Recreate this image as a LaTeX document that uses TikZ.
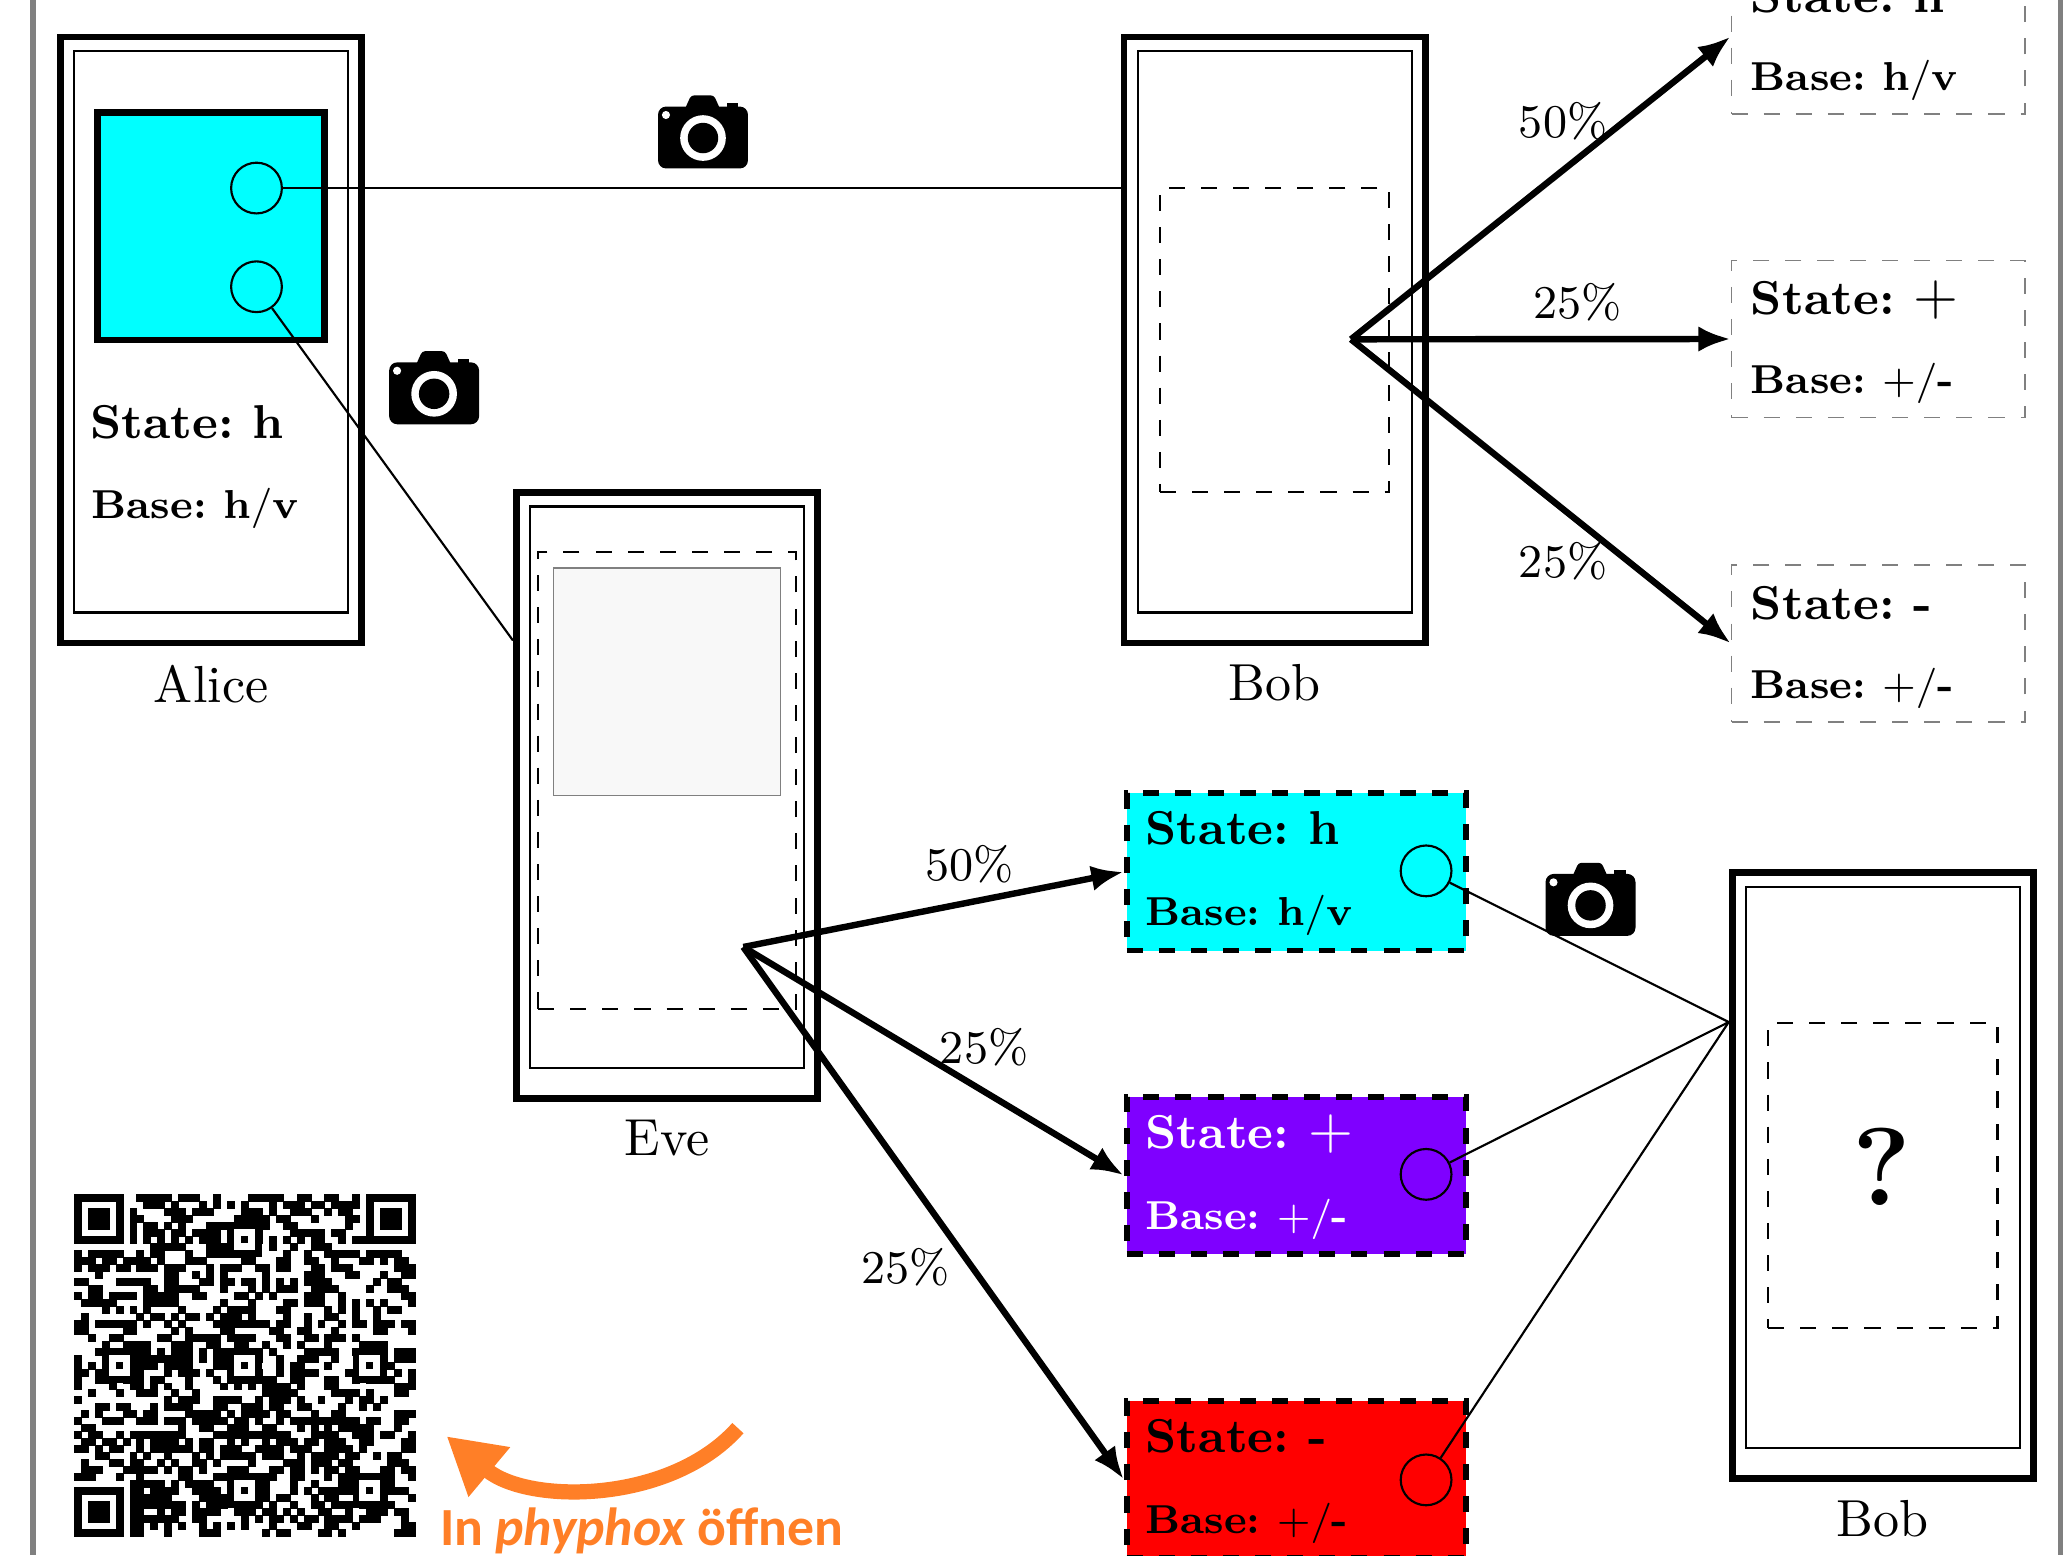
\documentclass[tikz,border=0pt]{standalone}
\usepackage{fontspec}
\usepackage{amsmath,amssymb}
\usetikzlibrary{arrows.meta,positioning,calc}
\newfontfamily\carlitofont{Carlito}
\definecolor{phyorange}{HTML}{FF7F27}
\definecolor{statecyan}{HTML}{00FFFF}
\definecolor{stateviolet}{HTML}{7F00FF}
\definecolor{statered}{HTML}{FF0000}
\definecolor{screengray}{HTML}{F8F8F8}
\newcommand{\stateplus}{{\fontsize{11}{13}\selectfont$+$}}
\newcount\qrcol
\def\qrstep#1{\ifx#1\relax\else\ifnum#1=1 \filldraw[line width=.1pt] (\the\qrcol,\qrrow) rectangle ++(1,1);\fi\advance\qrcol by 1 \expandafter\qrstep\fi}
\newcommand{\qralign}[2]{%
  \fill (#1-2,#2-2) rectangle ++(5,5);
  \fill[white] (#1-1,#2-1) rectangle ++(3,3);
  \fill (#1,#2) rectangle ++(1,1);}
\newcommand{\drawcamera}[1]{%
  \begin{scope}[shift={#1}]
    \fill[rounded corners=.08cm] (-.443,-.36) rectangle (.443,.25);
    \fill[rounded corners=.03cm] (-.19,.2) -- (-.118,.36) -- (.108,.36) -- (.18,.2) -- cycle;
    \fill (.236,.2) rectangle (.345,.286);
    \fill[white] (-.365,.167) circle (.04);
    \fill[white] (0,-.06) circle (.225);
    \fill (0,-.06) circle (.15);
  \end{scope}}

\begin{document}
\frenchspacing
\begin{tikzpicture}[
  phone/.style={rectangle,draw,line width=1.9pt,minimum width=2.97cm,minimum height=5.97cm,inner sep=0pt},
  phoneinner/.style={rectangle,draw,semithick,minimum width=2.7cm,minimum height=5.53cm,inner sep=0pt},
  window/.style={rectangle,draw,semithick,dash pattern=on 4.5pt off 4.5pt,minimum width=2.26cm,minimum height=3cm,inner sep=0pt},
  screen/.style={rectangle,draw,inner sep=0pt},
  port/.style={circle,draw,semithick,minimum size=5mm,inner sep=0pt},
  result/.style={rectangle,draw=gray,thin,dash pattern=on 4.5pt off 4.5pt,minimum width=2.89cm,minimum height=1.55cm,inner sep=0pt},
  measured/.style={rectangle,draw,line width=1.6pt,dash pattern=on 4.5pt off 4.5pt,minimum width=3.34cm,minimum height=1.55cm,inner sep=0pt},
  statetext/.style={anchor=base west,inner sep=0pt,scale=1.48,font=\small\bfseries},
  basetext/.style={anchor=base west,inner sep=0pt,scale=1.415,font=\footnotesize\bfseries},
  phonename/.style={scale=1.46,font=\normalsize},
  percent/.style={scale=1.46,font=\small,inner sep=0pt},
  beam/.style={line width=1.8pt,-{Latex[length=3.2mm,width=2.5mm]}},
  ray/.style={semithick}]
\useasboundingbox (0,0) rectangle (20.325,15.32);
\clip (0,0) rectangle (20.325,15.32);

% page rules
\fill[gray] (.296,0) rectangle (.355,15.32);
\fill[gray] (20.276,0) rectangle (20.325,15.32);

% phones
\node[phone] (alice) at (2.08,11.97) {};
\node[phone] (bob) at (12.558,11.97) {};
\node[phone] (eve) at (6.572,7.485) {};
\node[phone] (bobq) at (18.55,3.74) {};
\node[phoneinner] (aliceinner) at ($(alice)+(0,.08)$) {};
\node[phoneinner] (bobinner) at ($(bob)+(0,.08)$) {};
\node[phoneinner] (eveinner) at ($(eve)+(0,.08)$) {};
\node[phoneinner] (bobqinner) at ($(bobq)+(0,.08)$) {};
\node[phonename,below=0pt of alice] (alicename) {Alice};
\node[phonename,below=0pt of bob] (bobname) {Bob};
\node[phonename,below=0pt of eve] (evename) {Eve};
\node[phonename,below=0pt of bobq] (bobqname) {Bob};

% screens
\node[screen,line width=1.9pt,fill=statecyan,minimum size=2.24cm] (alicescreen) at ($(alice)+(0,1.12)$) {};
\node[port] (alicetop) at (2.527,13.467) {};
\node[port] (alicelow) at (2.527,12.495) {};
\node[statetext] (alicestate) at (.88,11) {State: h};
\node[basetext] (alicebase) at (.894,10.21) {Base: h$/$v};
\node[window] (bobwindow) at (bob) {};
\node[window] (bobqwindow) at (bobq) {};
\node[window,minimum width=2.54cm,minimum height=4.5cm] (evewindow) at ($(eve)+(0,.145)$) {};
\node[screen,thin,draw=gray,fill=screengray,minimum size=2.24cm] (evescreen) at ($(eve)+(0,1.12)$) {};
\node[font=\fontsize{31}{36}\selectfont\bfseries,inner sep=0pt] (question) at (18.54,3.82) {?};

% results on Bob's side
\node[result] (resh) at (18.505,14.97) {};
\node[result] (resp) at (18.505,11.98) {};
\node[result] (resm) at (18.505,8.98) {};
\node[statetext] (reshstate) at (17.24,15.2) {State: h};
\node[basetext] (reshbase) at (17.24,14.43) {Base: h$/$v};
\node[statetext] (respstate) at (17.24,12.22) {State: \stateplus};
\node[basetext] (respbase) at (17.24,11.44) {Base: $+/$-};
\node[statetext] (resmstate) at (17.24,9.22) {State: -};
\node[basetext] (resmbase) at (17.24,8.44) {Base: $+/$-};

% results on Eve's side
\node[measured,fill=statecyan] (evh) at (12.77,6.73) {};
\node[measured,fill=stateviolet] (evp) at (12.77,3.74) {};
\node[measured,fill=statered] (evm) at (12.77,.745) {};
\node[statetext] (evhstate) at (11.277,7) {State: h};
\node[basetext] (evhbase) at (11.277,6.2) {Base: h$/$v};
\node[statetext,white] (evpstate) at (11.277,4) {State: \stateplus};
\node[basetext,white] (evpbase) at (11.277,3.21) {Base: $+/$-};
\node[statetext] (evmstate) at (11.277,1.01) {State: -};
\node[basetext] (evmbase) at (11.277,.21) {Base: $+/$-};
\node[port] (evhport) at (14.05,6.74) {};
\node[port] (evpport) at (14.05,3.75) {};
\node[port] (evmport) at (14.05,.74) {};

% connectors
\coordinate (bobsrc) at (13.31,11.977);
\coordinate (evesrc) at (7.323,5.99);
\coordinate (eveport) at (eve.west |- 0,9.01);
\coordinate (bobqport) at (bobq.west |- bobqwindow.north);
\coordinate (reshport) at (17.05,14.96);
\draw[ray] (alicetop) -- (alicetop -| bob.west);
\draw[ray] (alicelow) -- (eveport);
\draw[ray] (evhport) -- (bobqport);
\draw[ray] (evpport) -- (bobqport);
\draw[ray] (evmport) -- (bobqport);
\draw[beam] (bobsrc) -- (reshport);
\draw[beam] (bobsrc) -- (resp.west);
\draw[beam] (bobsrc) -- (resm.west);
\draw[beam] (evesrc) -- (evh.west);
\draw[beam] (evesrc) -- (evp.west);
\draw[beam] (evesrc) -- (evm.west);
\node[percent] (pbobh) at (15.4,14.13) {50\%};
\node[percent] (pbobp) at (15.54,12.34) {25\%};
\node[percent] (pbobm) at (15.4,9.79) {25\%};
\node[percent] (pevh) at (9.553,6.805) {50\%};
\node[percent] (pevp) at (9.695,5.003) {25\%};
\node[percent] (pevm) at (8.918,2.839) {25\%};

% cameras
\drawcamera{(6.926,14.02)}
\drawcamera{(4.277,11.5)}
\drawcamera{(15.67,6.46)}

% qr code
\begin{scope}[shift={(.729,3.55)},x=.0686cm,y=-.0686cm]
\foreach \qrbits [count=\qrrow from 0] in {
1111111001111101110010000111110011001100101111111,
1000001000111010001010101000101110110111101000001,
1011101010000111011100001110100111001011001011101,
1011101011000011100000011111011000100001101011101,
1011101010110101000111111111001100000001001011101,
1000001010111011011110111010000111110110001000001,
1111111010101010101110110110101010110010111111111,
0000000000011111000111111100100100111000000000000,
1011111001011000100111111100001001001111101111100,
1110110111101000111000001100011001100100011010110,
1011101101110111000101110011011000110111000000111,
0001000000000110010101000001000001110001100010011,
1100001111100110001101101101010101111000000101100,
0011000000110111110001000101011100111100001001110,
1011011110111110011000011010100001110010000000011,
0111110000111110000001000100001101110010101010001,
0000101010100001000010111100011000001010100101100,
0100000001011010110101110100001001001100100100000,
1101111110100101000011111111011001010010110111011,
1100000110000010100001100000110011000100000110001,
0010011000001100111110111100011001101110100000000,
0000100111100011100110011001001010001000011110000,
0001111101101011101011111110100001111100111110111,
1000100011111111101011000010010011100100011110111,
1010101011110111100011010100010110001000010111000,
1101100111000101110100111010010111100001011000101,
1001100111011000100010111111100110001100101111001,
1000010011010100100001010101111010001100000000111,
0010001001110010010000000001111100000111101000110,
1000000000000101110011110010111010010001011010000,
0001101100010111100011001110110011000010010100000,
0101000110110000111110101111011000100110000000111,
1000111001110111011111011010010111111111101100110,
0110000000000001001100111001100010101011111000100,
1011001011111111000011111111111000111100111011001,
0110110101011110101100101001011101101110011000011,
1101011001011111101101110011110111001111010000011,
0001100010100100010101111101110010111101100101100,
0100011011001010011010000100001110111011000001110,
0111000111110101101000111000110110101101100011011,
1110001001000001100011111001100110001011011011001,
0000000011111010111100100101000100100011111101000,
1111111011011110011110101101000101011111010101110,
1000001011111100001111111011011000101100011010001,
1011101011111111010111011110100100110111010111000,
1011101011001011011110011101101010011001001110110,
1011101011111110011000001010110101101111011100010,
1000001011010101001010101000100011001100100000011,
1111111011000100001110000001011000011010000000111}
  {\global\qrcol=0 \expandafter\qrstep\qrbits\relax}
\qralign{24}{6}
\qralign{42}{24}
\qralign{6}{24}
\qralign{24}{24}
\qralign{24}{42}
\qralign{42}{42}
\end{scope}

% hint
\coordinate (hintstart) at (7.27,1.25);
\coordinate (hinttip) at (4.4,1.17);
\draw[phyorange,line width=1.5mm,-{Triangle[length=5.5mm,width=6mm]}] (hintstart) .. controls (6.6,.5) and (5.2,.5) .. (hinttip);
\node[anchor=base west,inner sep=0pt,text=phyorange,font=\carlitofont\fontsize{15.05}{18}\selectfont\bfseries] (hint) at (4.33,.09) {In {\itshape phyphox} öffnen};
\end{tikzpicture}
\end{document}
